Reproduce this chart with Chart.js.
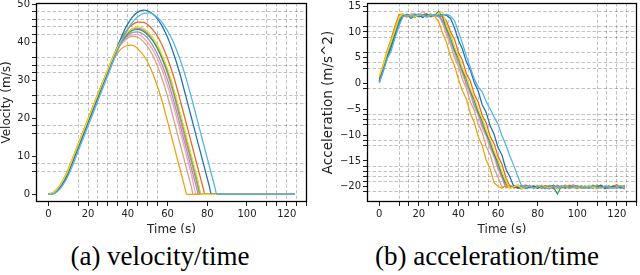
<!DOCTYPE html>
<html><head><meta charset="utf-8">
<script src="https://cdn.jsdelivr.net/npm/chart.js@4"></script>
<style>
html,body{margin:0;padding:0;background:#fff;width:640px;height:275px;overflow:hidden}
.clip{position:absolute;top:0;width:320px;height:233px;overflow:hidden}
.cap{position:absolute;top:241px;font-family:"Liberation Serif","Times New Roman",serif;font-size:27px;color:#000;white-space:nowrap;transform:translateX(-50%);line-height:30px}
</style></head><body>
<div class="clip" style="left:0"><canvas id="cv" width="320" height="240"></canvas></div>
<div class="clip" style="left:320px"><canvas id="ca" width="320" height="240"></canvas></div>
<div class="cap" style="left:160px">(a) velocity/time</div>
<div class="cap" style="left:487px">(b) acceleration/time</div>
<script>
// ---------- data ----------
const seriesNames = ['blue','sky','vermillion','yellow','green','magenta','gray','pink','tan','amber'];
const seriesColors = ['#1f70b0','#52b2e6','#e8681c','#f2d81c','#1a9e74','#c77cb6','#9a9a9a','#f29cc2','#d6a27a','#efa00e'];
const drawOrder = [3,1,5,2,6,7,8,9,10,4]; // lower = drawn on top

const velTime = [0,3,6,9,12,15,18,21,24,27,30,33,36,39,42,45,48,51,54,57,60,63,66,69,72,75,78,81,84,87];
const velEnd = 124;
const velBlue    = [0,0.5,2.0,4.6,8.3,12.3,16.3,20.3,24.3,28.3,32.3,36.3,40.4,43.9,46.4,47.9,48.4,48.0,46.7,44.5,41.3,37.1,32.1,26.2,20.2,14.2,8.2,2.2];
const velSky     = [0,0.2,1.5,3.9,7.3,11.3,15.3,19.3,23.3,27.3,31.3,35.3,39.2,42.5,45.0,46.7,47.6,47.7,46.9,45.4,43.0,39.9,35.9,31.1,25.5,19.5,13.5,7.5,1.5];
const velVerm    = [0,0.6,2.4,5.3,9.1,13.1,17.1,21.1,25.1,29.0,32.9,36.7,40.1,42.8,44.5,45.3,45.2,44.2,42.3,39.5,35.7,31.1,25.5,19.5,13.5,7.5,1.5];
const velYellow  = [0,0.6,2.4,5.2,9.0,13.0,17.0,21.0,25.0,28.9,32.8,36.6,39.8,42.1,43.5,44.0,43.6,42.3,40.1,37.0,33.0,28.0,22.2,16.2,10.2,4.2];
const velGreen   = [0,0.4,2.0,4.6,8.4,12.4,16.4,20.4,24.4,28.4,32.4,36.4,39.5,41.7,43.0,43.4,42.8,41.4,39.3,36.2,32.4,27.5,21.7,15.7,9.7,3.7];
const velMagenta = [0,0.3,1.9,4.5,8.2,12.2,16.2,20.2,24.2,28.2,32.3,36.4,39.7,42.0,43.3,43.7,43.2,41.7,39.3,36.0,31.7,26.5,20.5,14.5,8.5,2.5];
const velGray    = [0,0.5,2.1,4.8,8.6,12.6,16.6,20.6,24.6,28.6,32.6,36.4,39.3,41.3,42.5,42.7,42.0,40.4,37.8,34.4,30.1,24.8,18.9,12.9,6.9,0.9];
const velPink    = [0,0.4,2.0,4.7,8.4,12.4,16.4,20.4,24.4,28.4,32.5,36.3,39.1,40.9,41.9,42.0,41.1,39.3,36.7,33.1,28.6,23.2,17.3,11.3,5.3];
const velTan     = [0,0.6,2.3,5.1,8.9,12.9,16.9,20.9,24.9,28.8,32.7,36.3,39.0,40.7,41.5,41.3,40.1,38.0,34.9,30.8,25.8,19.9,13.9,7.9,1.9];
const velAmber   = [0,0.7,2.5,5.4,9.2,13.2,17.2,21.2,25.2,29.0,32.7,35.7,37.9,39.0,39.2,38.3,36.5,33.7,29.8,25.0,19.2,13.2,7.2,1.2];
const velStop = [82.1,84.8,78.8,77.1,76.85,76.3,75.4,74.6,73.0,69.6];

const accTime = [0,2,4,6,8,10,12,14,16,18,20,22,24,26,28,30,32,34,36,38,40,42,44,46,48,50,52,54,56,58,60,62,64,66,68,70,72,74,76,78,80,82,84,86,88,90,92,94,96,98,100,102,104,106,108,110,112,114,116,118,120,122,124];
const accBlue = [0.5,2.7,5.0,7.0,9.3,11.5,13.2,13.4,13.1,13.3, 13.2,12.8,13.4,13.1,13.3,13.0,13.4,13.2,12.6,10.8, 8.4,6.7,4.2,2.6,0.2,-1.5,-4.1,-5.6,-8.2,-9.8, -12.4,-13.9,-16.6,-18.1,-20.0,-20.2,-19.8,-20.3,-20.1,-19.9, -20.2,-19.8,-20.4,-20.0,-19.7,-20.3,-20.1,-19.9,-20.2,-20.0, -19.8,-20.3,-20.1,-19.9,-20.2,-20.0,-19.7,-20.3,-20.1,-19.9, -20.2,-20.0,-20.4];
const accSky = [0.2,2.4,4.8,6.3,8.9,11.2,13.0,13.3,13.0,13.2, 13.4,13.1,12.9,13.3,13.2,13.0,13.3,13.4,13.1,12.2, 10.0,7.8,5.3,3.1,0.9,-0.7,-1.6,-3.5,-4.9,-6.5, -7.9,-10.1,-11.9,-14.1,-15.9,-18.0,-19.9,-20.2,-19.8,-20.3, -20.0,-19.8,-20.2,-20.4,-19.9,-20.1,-20.0,-19.7,-20.3,-20.1, -19.9,-20.2,-20.0,-20.3,-19.8,-20.1,-20.2,-19.9,-20.0,-20.3, -20.1,-19.8,-20.2];
const accVerm = [0.9,3.4,6.4,8.6,11.2,13.4,13.4,13.0,13.3,13.1, 13.4,12.9,13.2,13.5,13.1,13.3,13.0,12.1,10.0,8.6, 6.0,4.5,1.9,0.5,-2.1,-3.6,-6.2,-7.6,-10.2,-11.6, -14.1,-15.7,-18.3,-19.9,-20.2,-19.8,-20.3,-20.0,-19.7,-20.2, -19.9,-20.3,-19.8,-20.0,-20.4,-19.9,-20.1,-20.2,-19.7,-20.0, -20.3,-19.8,-20.2,-20.0,-19.9,-20.3,-19.7,-20.1,-20.2,-19.9, -19.6,-20.1,-19.7];
const accYellow = [1.5,3.6,6.0,8.1,10.3,12.8,13.5,13.1,13.3,13.0, 13.3,13.2,12.9,13.4,13.1,13.6,13.9,11.2,9.4,7.1, 5.3,3.0,1.3,-1.0,-2.7,-5.0,-6.8,-9.0,-10.8,-13.0, -14.8,-17.1,-18.9,-20.4,-20.0,-19.7,-20.3,-20.1,-19.8,-20.4, -20.0,-19.7,-20.2,-20.1,-19.9,-20.3,-20.0,-19.8,-20.4,-20.1, -19.9,-20.3,-20.0,-19.8,-20.2,-20.1,-20.3,-19.9,-20.0,-20.2, -20.1,-19.8,-20.3];
const accGreen = [0.4,2.8,5.3,7.5,9.8,12.2,13.1,13.4,12.6,13.2, 12.9,13.3,13.5,13.0,13.2,14.0,12.8,10.6,8.9,6.5, 4.9,2.5,0.9,-1.5,-3.1,-5.6,-7.2,-9.6,-11.2,-13.6, -15.3,-17.7,-19.4,-20.3,-19.9,-20.2,-20.4,-19.8,-20.1,-19.9, -20.3,-20.0,-19.8,-20.2,-20.1,-21.4,-19.9,-20.3,-19.8,-20.1, -20.2,-19.9,-20.1,-20.3,-19.7,-20.0,-20.2,-19.9,-20.1,-20.3, -19.9,-20.2,-20.0];
const accMagenta = [0.1,2.3,4.9,7.2,9.6,11.8,13.0,13.3,12.9,13.2, 13.5,13.0,13.3,13.1,13.4,12.9,13.2,11.1,9.3,6.9, 5.2,2.8,0.9,-1.5,-3.2,-5.6,-7.3,-9.8,-11.5,-14.0, -15.6,-18.1,-19.9,-20.2,-19.8,-20.1,-20.3,-19.7,-20.0,-20.2, -19.9,-20.1,-20.3,-19.8,-20.2,-19.7,-20.1,-20.0,-20.3,-19.8, -20.0,-20.2,-19.9,-20.1,-20.3,-19.8,-20.0,-20.2,-19.9,-20.1, -20.0,-20.3,-19.8];
const accGray = [0.6,2.9,5.5,7.7,10.1,12.4,13.3,13.0,13.2,12.8, 13.4,13.1,13.3,12.9,13.2,13.4,12.1,10.4,8.1,6.4, 4.0,2.4,0.0,-1.6,-4.1,-5.7,-8.1,-9.7,-12.1,-13.7, -16.2,-17.8,-20.1,-19.7,-20.2,-20.0,-19.8,-20.3,-19.9,-20.1, -20.2,-19.7,-20.3,-19.9,-20.0,-20.4,-19.8,-20.1,-19.9,-20.2, -19.8,-20.1,-20.3,-19.7,-20.2,-19.9,-20.0,-20.4,-19.8,-20.1, -20.3,-19.9,-20.2];
const accPink = [0.3,2.6,5.1,7.4,9.9,12.1,13.2,12.8,13.5,13.6, 13.1,14.0,13.2,12.9,13.3,13.2,11.6,10.0,7.6,5.9, 3.5,1.9,-0.5,-2.1,-4.6,-6.2,-8.6,-10.2,-12.6,-14.2, -16.7,-18.3,-20.2,-19.8,-20.1,-20.3,-19.9,-19.6,-20.2,-20.0, -19.8,-20.4,-20.1,-19.7,-20.2,-20.0,-19.9,-20.3,-19.8,-20.1, -20.4,-19.9,-20.0,-20.3,-19.7,-20.1,-20.2,-19.8,-20.4,-20.0, -19.8,-20.2,-20.0];
const accTan = [0.8,3.2,5.8,8.0,10.4,12.6,13.4,13.2,12.9,13.3, 13.1,13.4,12.8,13.2,13.3,13.1,11.9,9.3,7.6,5.0, 3.3,0.8,-1.0,-3.6,-5.2,-7.9,-9.5,-12.2,-13.8,-16.4, -18.2,-20.1,-19.8,-20.3,-19.9,-20.2,-19.7,-20.4,-20.0,-19.8, -20.3,-19.9,-20.1,-20.4,-19.7,-20.2,-19.9,-20.3,-20.0,-19.6, -20.1,-20.3,-19.8,-20.2,-19.9,-20.4,-19.8,-20.1,-20.3,-19.9, -20.2,-19.8,-20.1];
const accAmber = [1.2,3.8,6.2,8.4,10.9,13.2,13.5,13.1,13.4,12.9, 13.3,13.0,13.4,13.2,13.0,12.0,9.8,7.9,5.2,3.5, 0.8,-1.4,-3.0,-5.8,-7.5,-10.3,-12.0,-14.8,-16.5,-19.2, -19.9,-20.3,-19.7,-20.2,-20.0,-19.6,-20.4,-19.9,-20.1,-20.3, -19.7,-20.2,-19.9,-20.4,-19.8,-20.0,-20.3,-19.7,-20.1,-19.9, -20.2,-19.8,-20.3,-19.9,-20.1,-19.6,-20.2,-20.0,-19.8,-20.3, -19.9,-20.1,-19.7];

// axis ticks / grid positions
const xMajor = [0,20,40,60,80,100,120];
const xGridV = [15,20,25,30,35,40,45,50,55,110,115,120,125,130];
const xGridA = [10,15,20,25,30,35,40,45,50,55,60,110,115,120,125,130];
const yMajorV = [0,10,20,30,40,50];
const yGridV = [6,8,16,18,24,26,32,34,36,42,44,46,48];
const yMajorA = [-20,-15,-10,-5,0,5,10,15];
const yGridA = [14,11,10,9,6,4,3,-1,-6,-7,-8,-11,-12,-16,-17,-18,-19,-21];

// ---------- build ----------
const velSeries = [velBlue,velSky,velVerm,velYellow,velGreen,velMagenta,velGray,velPink,velTan,velAmber];
const accSeries = [accBlue,accSky,accVerm,accYellow,accGreen,accMagenta,accGray,accPink,accTan,accAmber];

function velPoints(vals, stop){
  const pts = [];
  vals.forEach((v,i)=>{ if (velTime[i] < stop) pts.push({x:velTime[i], y:v}); });
  pts.push({x:stop, y:0});
  pts.push({x:velEnd, y:0});
  return pts;
}
function accPoints(vals){ return vals.map((v,i)=>({x:accTime[i], y:v})); }

const GRID = 'rgba(0,0,0,0.24)';
const TICKFONT = {family:'"DejaVu Sans"', size:10};
const fmt = v => String(v).replace('-', '\u2212');

function axis(cfg){
  const all = Array.from(new Set(cfg.major.concat(cfg.grid))).sort((a,b)=>a-b);
  return {
    type:'linear', min:cfg.min, max:cfg.max,
    afterBuildTicks: s => { s.ticks = all.map(v=>({value:v})); },
    afterFit: s => {
      if (cfg.horizontal){ s.height = cfg.size; s.paddingLeft = 0; s.paddingRight = 0; }
      else { s.width = cfg.size; s.paddingTop = 0; s.paddingBottom = 0; }
    },
    ticks:{ autoSkip:false, maxRotation:0, padding:cfg.tpad, color:'#222', font:TICKFONT,
      callback: v => cfg.major.includes(v) ? fmt(v) : '' },
    grid:{ drawOnChartArea:true, drawTicks:true, tickLength:4, lineWidth:1, tickWidth:1,
      color: c => (c.tick && cfg.grid.includes(c.tick.value)) ? GRID : 'rgba(0,0,0,0)',
      tickColor:'#222' },
    border:{ display:false, dash:[3.5,2] },
    title:{ display:true, text:cfg.title, color:'#222', font:{family:'"DejaVu Sans"', size:cfg.tsize}, padding:cfg.titlePad }
  };
}

const frame = { id:'frame', afterDatasetsDraw(chart){
  const a = chart.chartArea, ctx = chart.ctx;
  ctx.save(); ctx.strokeStyle = '#000'; ctx.lineWidth = 1.3;
  ctx.strokeRect(Math.round(a.left)+0.5, Math.round(a.top)+0.5, Math.round(a.right-a.left)-1, Math.round(a.bottom-a.top)-1);
  ctx.restore();
}};

function lineDs(points, i, smooth){
  return { label:seriesNames[i], data:points, borderColor:seriesColors[i], backgroundColor:seriesColors[i],
    borderWidth:1.25, pointRadius:0, fill:false, order:drawOrder[i],
    cubicInterpolationMode: smooth ? 'monotone' : 'default', tension:0 };
}

const common = { responsive:false, animation:false, devicePixelRatio:1,
  plugins:{ legend:{display:false}, tooltip:{enabled:false} }, events:[] };

new Chart(document.getElementById('cv'), {
  type:'line',
  data:{ datasets: velSeries.map((v,i)=>lineDs(velPoints(v, velStop[i]), i, true)) },
  options:Object.assign({}, common, {
    layout:{ padding:{ left:0, right:13, top:3, bottom:0 } },
    scales:{
      x: axis({horizontal:true, size:38, min:-6.2, max:130.2, major:xMajor, grid:xGridV, tpad:2, title:'Time (s)', tsize:12, titlePad:{top:0,bottom:3}}),
      y: axis({horizontal:false, size:36, min:-2.0, max:50.3, major:yMajorV, grid:yGridV, tpad:2, title:'Velocity (m/s)', tsize:12, titlePad:{top:0,bottom:0}})
    }
  }),
  plugins:[frame]
});

new Chart(document.getElementById('ca'), {
  type:'line',
  data:{ datasets: accSeries.map((v,i)=>lineDs(accPoints(v), i, false)) },
  options:Object.assign({}, common, {
    layout:{ padding:{ left:0, right:3, top:3, bottom:0 } },
    scales:{
      x: axis({horizontal:true, size:38, min:-6.2, max:130.2, major:xMajor, grid:xGridA, tpad:2, title:'Time (s)', tsize:12, titlePad:{top:0,bottom:3}}),
      y: axis({horizontal:false, size:47, min:-22.95, max:15.6, major:yMajorA, grid:yGridA, tpad:2, title:'Acceleration (m/s^2)', tsize:13.5, titlePad:{top:0,bottom:0}})
    }
  }),
  plugins:[frame]
});
</script>
</body></html>
